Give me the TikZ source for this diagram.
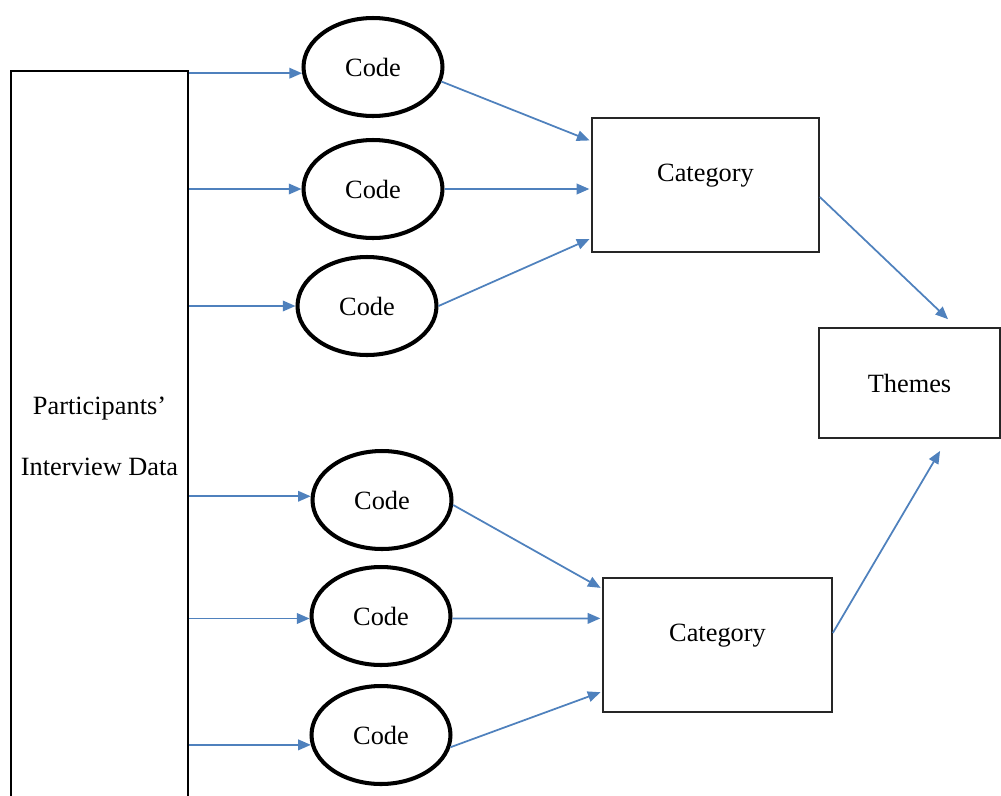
\documentclass[tikz,border=0pt]{standalone}
\usepackage{fontspec}
\setmainfont{Liberation Serif}
\usepackage{tikz}
\usetikzlibrary{arrows.meta}
\usetikzlibrary{shapes.geometric}

\definecolor{flowblue}{RGB}{79,129,189}

\tikzset{
  codenode/.style={draw=black, line width=2.3pt, ellipse, minimum width=2.78cm, minimum height=1.96cm, inner sep=0pt},
  catnode/.style={draw=black!85, line width=1pt, rectangle, minimum height=2.68cm, inner sep=0pt, text height=10.5pt, text depth=14pt},
  flow/.style={draw=flowblue, line width=1pt, -{Triangle[length=7.2pt,width=6pt]}}
}

\begin{document}
\begin{tikzpicture}[x=0.02cm, y=-0.02cm, font=\fontsize{15}{34.7}\selectfont]

            \useasboundingbox (0,0) rectangle (1001,795);

            % source data
            \node[draw=black, line width=1pt, minimum width=3.54cm, minimum height=14.6cm, align=center, inner sep=0pt] (data) at (99.5,436) {Participants’\\Interview Data};

            % codes
            \node[codenode] (code1) at (373,67) {Code};
            \node[codenode] (code2) at (373,189) {Code};
            \node[codenode] (code3) at (367,306) {Code};
            \node[codenode] (code4) at (382,500) {Code};
            \node[codenode] (code5) at (381,616) {Code};
            \node[codenode] (code6) at (381,735) {Code};

            % categories and themes
            \node[catnode, minimum width=4.54cm] (cat1) at (705.5,185) {Category};
            \node[catnode, minimum width=4.58cm] (cat2) at (717.5,645) {Category};
            \node[draw=black!85, line width=1pt, minimum width=3.62cm, minimum height=2.2cm, inner sep=0pt] (themes) at (909.5,383) {Themes};

            % data to codes
            \draw[flow] (data.east |- code1.185) -- (code1.185);
            \draw[flow] (data.east |- code2.west) -- (code2.west);
            \draw[flow] (data.east |- code3.west) -- (code3.west);
            \draw[flow] (data.east |- code4.177) -- (code4.177);
            \draw[flow] (data.east |- code5.182) -- (code5.182);
            \draw[flow] (data.east |- code6.188) -- (code6.188);

            % codes to categories
            \draw[flow, shorten >=1pt] (code1.-12) -- (cat1.159);
            \draw[flow, shorten >=1pt] (code2.east) -- (cat1.182);
            \draw[flow, shorten >=1pt] (code3.east) -- (cat1.205);
            \draw[flow, shorten >=1pt] (code4.-4) -- (cat2.154);
            \draw[flow, shorten >=1pt] (code5.-2) -- (cat2.167);
            \draw[flow, shorten >=1pt] (code6.-10) -- (cat2.202);

            % categories to themes
            \draw[flow, shorten >=0.23cm] (cat1.-6) -- (themes.50);
            \draw[flow, shorten >=0.28cm] (cat2.6.5) -- (themes.-56);

          \end{tikzpicture}
\end{document}
